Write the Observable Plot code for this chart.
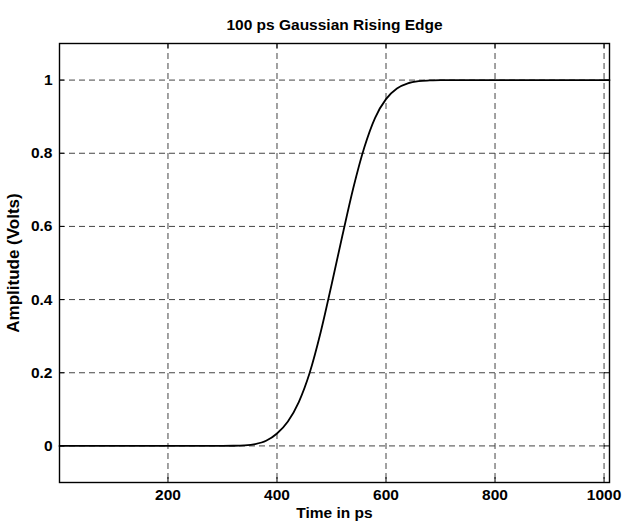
<!DOCTYPE html>
<html>
<head>
<meta charset="utf-8">
<script src="https://cdn.jsdelivr.net/npm/d3@7"></script>
<script src="https://cdn.jsdelivr.net/npm/@observablehq/plot@0.6"></script>
<style>
  html, body { margin: 0; padding: 0; background: #fff; }
  svg { display: block; }
</style>
</head>
<body>
<div id="chart"></div>
<script>
// Time (ps) and amplitude (V)
const timePs = [1, 100, 200, 300, 320, 340, 360, 380, 400, 420, 440, 460, 480, 500, 520, 540, 560, 580, 600, 620, 640, 660, 680, 700, 800, 900, 1010];
const amplitude = [0, 0, 0, 0.0001, 0.0004, 0.0015, 0.005, 0.014, 0.034, 0.067, 0.12, 0.2, 0.31, 0.44, 0.575, 0.705, 0.815, 0.897, 0.948, 0.977, 0.991, 0.997, 0.999, 1, 1, 1, 1];
const xTicks = [200, 400, 600, 800, 1000];
const xTickLabels = ["200", "400", "600", "800", "1000"];
const yTicks = [0, 0.2, 0.4, 0.6, 0.8, 1];
const yTickLabels = ["0", "0.2", "0.4", "0.6", "0.8", "1"];
const titleText = "100 ps Gaussian Rising Edge";
const xLabel = "Time in ps";
const yLabel = "Amplitude (Volts)";

const data = timePs.map((t, i) => ({t, v: amplitude[i]}));

const W = 624, H = 521;
const mL = 59, mR = 15, mT = 43, mB = 39;
const frameH = H - mT - mB;
const frameW = W - mL - mR;
const tickLen = 5;
const font = "'Liberation Sans', Arial, Helvetica, sans-serif";

const chart = Plot.plot({
  width: W,
  height: H,
  marginLeft: mL,
  marginRight: mR,
  marginTop: mT,
  marginBottom: mB,
  style: {fontFamily: font, fontSize: "15px", fontWeight: "bold", color: "black", background: "white"},
  x: {domain: [1, 1010]},
  y: {domain: [-0.1, 1.1]},
  marks: [
    // dashed grid
    Plot.gridX(xTicks, {stroke: "#444", strokeOpacity: 1, strokeWidth: 1, strokeDasharray: "6,4"}),
    Plot.gridY(yTicks, {stroke: "#444", strokeOpacity: 1, strokeWidth: 1, strokeDasharray: "6,4"}),
    // inward ticks, bottom/top
    Plot.tickX(xTicks, {x: d => d, stroke: "black", insetTop: frameH - tickLen}),
    Plot.tickX(xTicks, {x: d => d, stroke: "black", insetBottom: frameH - tickLen}),
    // inward ticks, left/right
    Plot.tickY(yTicks, {y: d => d, stroke: "black", insetRight: frameW - tickLen}),
    Plot.tickY(yTicks, {y: d => d, stroke: "black", insetLeft: frameW - tickLen}),
    // tick labels
    Plot.axisX(xTicks, {tickSize: 0, tickPadding: 6, label: null, fontSize: 15.5, fontWeight: "bold",
      tickFormat: d => xTickLabels[xTicks.indexOf(d)]}),
    Plot.axisY(yTicks, {tickSize: 0, tickPadding: 7, label: null, fontSize: 15.5, fontWeight: "bold",
      tickFormat: d => yTickLabels[yTicks.indexOf(d)]}),
    // curve
    Plot.line(data, {x: "t", y: "v", stroke: "black", strokeWidth: 1.8, curve: "monotone-x"}),
    Plot.frame({stroke: "black", strokeWidth: 1.4}),
    // title and axis labels
    Plot.text([titleText], {text: d => d, frameAnchor: "top", dy: -18, lineAnchor: "middle", textAnchor: "middle", fontSize: 15.5, fontWeight: "bold"}),
    Plot.text([xLabel], {text: d => d, frameAnchor: "bottom", dy: 31, lineAnchor: "middle", textAnchor: "middle", fontSize: 15.5, fontWeight: "bold"}),
    Plot.text([yLabel], {text: d => d, frameAnchor: "left", dx: -46, rotate: -90, lineAnchor: "middle", textAnchor: "middle", fontSize: 17, fontWeight: "bold"})
  ]
});
document.getElementById("chart").appendChild(chart);
</script>
</body>
</html>
